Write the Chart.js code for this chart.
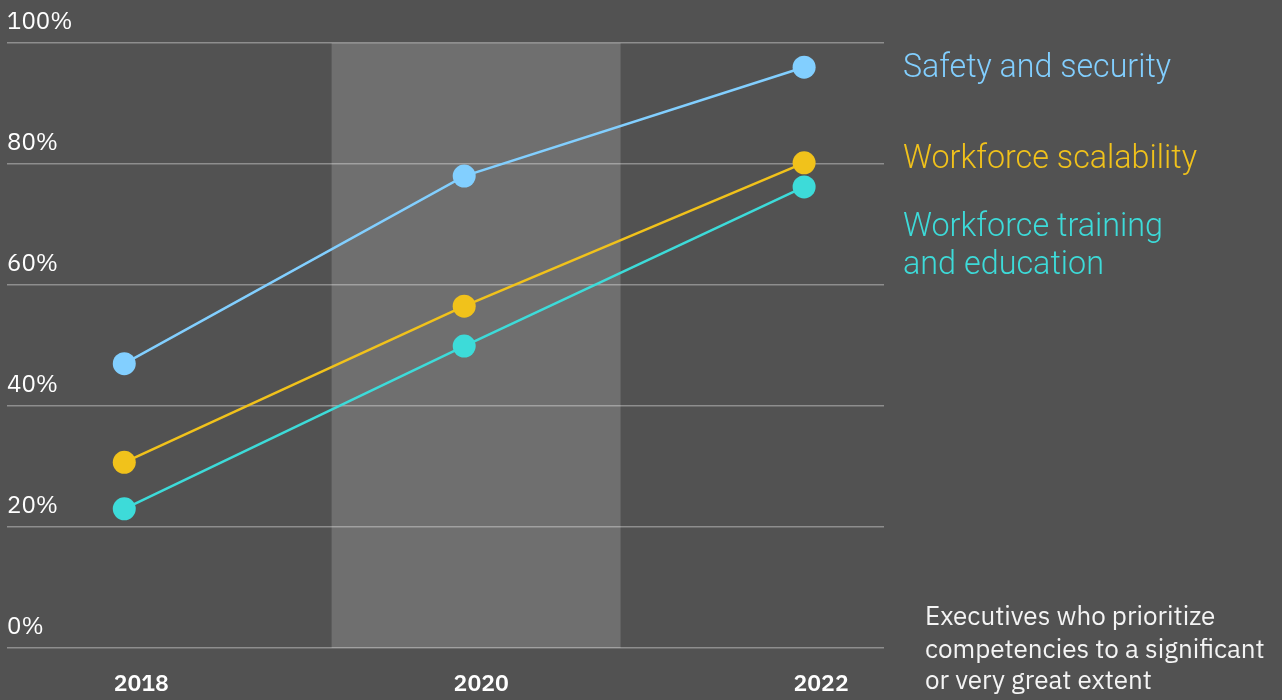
<!DOCTYPE html>
<html>
<head>
<meta charset="utf-8">
<script src="https://cdn.jsdelivr.net/npm/chart.js@4"></script>
<style>
  html, body { margin: 0; padding: 0; background: #525252; }
  #wrap { width: 1282px; height: 700px; position: relative; }
  canvas { display: block; }
</style>
</head>
<body>
<div id="wrap"><canvas id="c" width="1282" height="700"></canvas></div>
<script>
// ---- data ----
const years = [2018, 2020, 2022];
const yearLabels = ['2018', '2020', '2022'];
const safetySecurity = [47, 78, 96];
const workforceScalability = [30.7, 56.5, 80.2];
const workforceTraining = [23, 49.9, 76.2];
const seriesNames = ['Safety and security', 'Workforce scalability', 'Workforce training\nand education'];
const yTicks = [0, 20, 40, 60, 80, 100];
const highlightRange = [2019.22, 2020.92];
const noteText = ['Executives who prioritize', 'competencies to a significant', 'or very great extent'];

// ---- styles ----
const colors = ['#82cfff', '#f1c21b', '#3ddbd9'];
const BASE_FONT = '"IBM Plex Sans", "Open Sans", "Noto Sans", sans-serif';

const toXY = arr => arr.map((v, i) => ({ x: years[i], y: v }));

const bandPlugin = {
  id: 'band',
  beforeDraw(chart) {
    const { ctx, chartArea, scales } = chart;
    const x0 = scales.x.getPixelForValue(highlightRange[0]);
    const x1 = scales.x.getPixelForValue(highlightRange[1]);
    ctx.save();
    ctx.fillStyle = '#6f6f6f';
    ctx.fillRect(x0, chartArea.top, x1 - x0, chartArea.bottom - chartArea.top);
    ctx.restore();
  }
};

const labelsPlugin = {
  id: 'sideLabels',
  afterDraw(chart) {
    const { ctx } = chart;
    ctx.save();
    ctx.textBaseline = 'alphabetic';
    ctx.textAlign = 'left';
    const pos = [
      [[903, 77, 268]],
      [[903, 168, 294]],
      [[903, 236, 260], [903, 274, 201]]
    ];
    seriesNames.forEach((name, i) => {
      const lines = name.split('\n');
      ctx.fillStyle = colors[i];
      ctx.font = '300 33px Roboto, ' + BASE_FONT;
      lines.forEach((ln, j) => {
        const p = pos[i][j];
        ctx.fillText(ln, p[0], p[1], p[2]);
      });
    });
    ctx.fillStyle = '#f4f4f4';
    ctx.font = '400 26px ' + BASE_FONT;
    const noteY = [625, 658, 689];
    noteText.forEach((t, i) => ctx.fillText(t, 925, noteY[i], 347));
    ctx.restore();
  }
};

new Chart(document.getElementById('c'), {
  type: 'line',
  data: {
    datasets: [
      { label: seriesNames[0], data: toXY(safetySecurity), borderColor: colors[0], backgroundColor: colors[0] },
      { label: seriesNames[1], data: toXY(workforceScalability), borderColor: colors[1], backgroundColor: colors[1] },
      { label: seriesNames[2], data: toXY(workforceTraining), borderColor: colors[2], backgroundColor: colors[2] }
    ]
  },
  options: {
    responsive: false,
    animation: false,
    layout: { autoPadding: false, padding: { left: 7, right: 398, top: 43, bottom: 0 } },
    elements: {
      line: { borderWidth: 2.5, tension: 0 },
      point: { radius: 11.5, borderWidth: 0, hoverRadius: 11.5 }
    },
    plugins: {
      legend: { display: false },
      tooltip: { enabled: false }
    },
    scales: {
      x: {
        type: 'linear',
        min: 2017.31,
        max: 2022.47,
        afterBuildTicks(scale) { scale.ticks = years.map(v => ({ value: v })); },
        afterFit(scale) { scale.height = 52; },
        ticks: {
          autoSkip: false,
          maxRotation: 0,
          color: '#ffffff',
          font: { family: BASE_FONT, size: 23, weight: '600' },
          padding: 23,
          labelOffset: 17,
          callback: (v) => yearLabels[years.indexOf(v)] ?? ''
        },
        grid: { display: false, drawTicks: false },
        border: { display: false }
      },
      y: {
        min: 0,
        max: 100,
        afterBuildTicks(scale) { scale.ticks = yTicks.map(v => ({ value: v })); },
        afterFit(scale) { scale.width = 0; },
        ticks: {
          mirror: true,
          padding: 0,
          labelOffset: -21,
          color: '#ffffff',
          font: { family: BASE_FONT, size: 24, weight: '400' },
          callback: v => v + '%'
        },
        grid: { color: 'rgba(255,255,255,0.35)', lineWidth: 1.5, drawTicks: false },
        border: { display: false }
      }
    }
  },
  plugins: [bandPlugin, labelsPlugin]
});
</script>
</body>
</html>
